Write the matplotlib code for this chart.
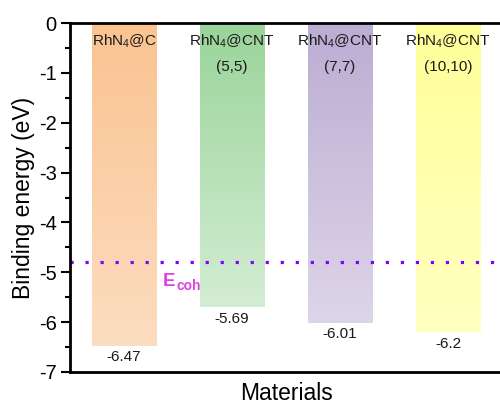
import matplotlib.pyplot as plt
import numpy as np
from matplotlib.colors import to_rgb

plt.rcParams['font.family'] = ['Liberation Sans', 'DejaVu Sans']
plt.rcParams['mathtext.fontset'] = 'custom'
plt.rcParams['mathtext.rm'] = 'Liberation Sans'
plt.rcParams['mathtext.it'] = 'Liberation Sans:italic'
plt.rcParams['mathtext.bf'] = 'Liberation Sans:bold'

materials = ["RhN$_4$@C", "RhN$_4$@CNT\n(5,5)", "RhN$_4$@CNT\n(7,7)", "RhN$_4$@CNT\n(10,10)"]
energies = [-6.47, -5.69, -6.01, -6.2]
value_labels = ["-6.47", "-5.69", "-6.01", "-6.2"]
e_coh = -4.8

top_colors = ["#FAC391", "#9AD49A", "#BBADD3", "#FFFF99"]
bottom_colors = ["#FCDDC0", "#D3EDD3", "#DDD5E8", "#FFFFC0"]

fig = plt.figure(figsize=(5, 4.05), dpi=100)
ax = fig.add_axes([0.14, 0.0815, 0.864, 0.8615])

width = 0.6
for i, (e, c1, c2) in enumerate(zip(energies, top_colors, bottom_colors)):
    x = i + 1
    t = np.linspace(0, 1, 200)[:, None]
    grad = (1 - t) * np.array(to_rgb(c1)) + t * np.array(to_rgb(c2))
    grad = grad[:, None, :]
    ax.imshow(grad, extent=[x - width / 2, x + width / 2, e, 0],
              aspect='auto', origin='upper', zorder=1)
    lines = materials[i].split("\n")
    ax.text(x, -0.37, lines[0], ha='center', va='center', fontsize=11, color='#1a1a1a', zorder=3)
    if len(lines) > 1:
        ax.text(x, -0.88, lines[1], ha='center', va='center', fontsize=11, color='#1a1a1a', zorder=3)
    ax.annotate(value_labels[i], (x, e), xytext=(0, -8.5), textcoords='offset points',
                ha='center', va='center', fontsize=11, color='#1a1a1a')

ax.axhline(e_coh, color='#7F00FF', linestyle=(0, (1, 3.7)), linewidth=2.3, zorder=2)
# E_coh label: bold E with a bold subscript
ax.text(1.36, -5.27, "E", color='#E040E0', fontsize=13.5, fontweight='bold',
        ha='left', va='baseline')
ax.annotate("coh", (1.36, -5.27), xytext=(9.5, -3), textcoords='offset points',
            color='#E040E0', fontsize=10, fontweight='bold', ha='left', va='baseline')

ax.set_xlim(0.5, 4.5)
ax.set_ylim(-7, 0)
ax.set_yticks(np.arange(-7, 1, 1))
ax.set_yticks(np.arange(-6.5, 0, 1), minor=True)
ax.set_xticks([])
ax.tick_params(axis='y', which='major', direction='out', length=6.5, width=1.5, labelsize=14.5, pad=3)
ax.tick_params(axis='y', which='minor', direction='out', length=3.5, width=1.5)
ax.set_yticklabels([str(v) for v in range(-7, 1)])
for s in ['left', 'bottom', 'top']:
    ax.spines[s].set_linewidth(2)
ax.spines['right'].set_visible(False)

ax.set_ylabel("Binding energy (eV)", fontsize=16.5, labelpad=3)
ax.set_xlabel("Materials", fontsize=16.5, labelpad=7)

fig.savefig("out.png", dpi=100)
